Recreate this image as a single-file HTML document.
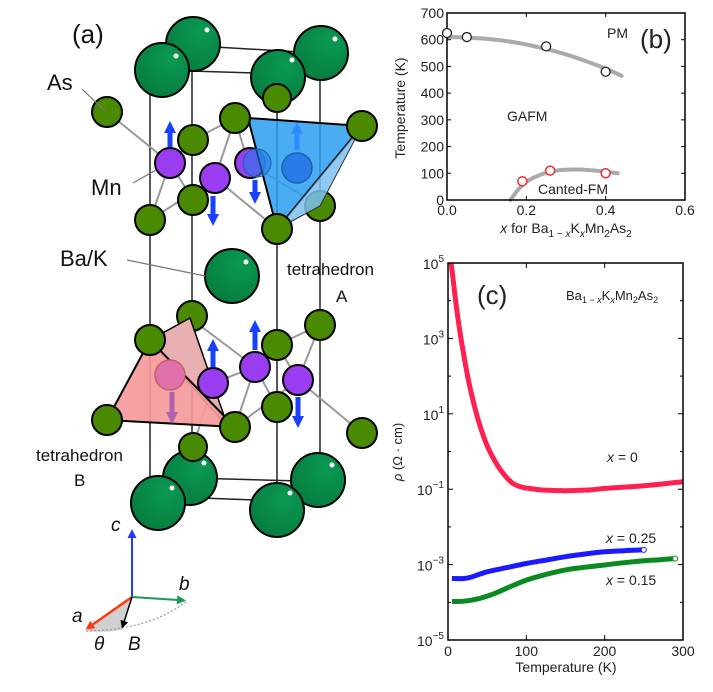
<!DOCTYPE html>
<html><head><meta charset="utf-8">
<style>
html,body{margin:0;padding:0;background:#fff;}
svg{display:block;font-family:"Liberation Sans",sans-serif;}
</style></head>
<body>
<svg id="fig" width="713" height="692" viewBox="0 0 713 692" xmlns="http://www.w3.org/2000/svg">
<defs>
<radialGradient id="gBa" cx="0.65" cy="0.3" r="0.8"><stop offset="0" stop-color="#0a9a52"/><stop offset="1" stop-color="#067a3e"/></radialGradient>
<marker id="mSpin" markerUnits="userSpaceOnUse" markerWidth="12" markerHeight="12" refX="2" refY="6" orient="auto"><path d="M0,0 L12,6 L0,12 z" fill="#1740ff"/></marker>
<marker id="mSpinL" markerUnits="userSpaceOnUse" markerWidth="12" markerHeight="12" refX="2" refY="6" orient="auto"><path d="M0,0 L12,6 L0,12 z" fill="#2a8cff"/></marker>
<marker id="mSpinP" markerUnits="userSpaceOnUse" markerWidth="12" markerHeight="12" refX="2" refY="6" orient="auto"><path d="M0,0 L12,6 L0,12 z" fill="#b060b0"/></marker>
<marker id="mBlue" markerUnits="userSpaceOnUse" markerWidth="9" markerHeight="9" refX="1" refY="4.5" orient="auto"><path d="M0,0 L9,4.5 L0,9 z" fill="#1f3cff"/></marker>
<marker id="mGreen" markerUnits="userSpaceOnUse" markerWidth="9" markerHeight="9" refX="1" refY="4.5" orient="auto"><path d="M0,0 L9,4.5 L0,9 z" fill="#1a9a55"/></marker>
<marker id="mRed" markerUnits="userSpaceOnUse" markerWidth="9" markerHeight="9" refX="1" refY="4.5" orient="auto"><path d="M0,0 L9,4.5 L0,9 z" fill="#ff3a10"/></marker>
<marker id="mBlack" markerUnits="userSpaceOnUse" markerWidth="8" markerHeight="8" refX="1" refY="4" orient="auto"><path d="M0,0 L8,4 L0,8 z" fill="#000"/></marker>
</defs>

<g id="panel-a">
<g stroke="#222" stroke-width="1.5" fill="none">
<line x1="150" y1="70" x2="150" y2="505"/>
<line x1="192" y1="44" x2="192" y2="480"/>
<line x1="277" y1="77" x2="277" y2="510"/>
<line x1="320" y1="53" x2="320" y2="482"/>
<line x1="215" y1="47" x2="300" y2="52"/>
<line x1="190" y1="71" x2="255" y2="73"/>
<line x1="190" y1="478" x2="300" y2="481"/>
<line x1="175" y1="497" x2="255" y2="500"/>
</g>
<g stroke="#999" stroke-width="2">
<line x1="107" y1="112" x2="170" y2="163"/><line x1="170" y1="163" x2="193" y2="140"/><line x1="170" y1="163" x2="150" y2="220"/><line x1="170" y1="163" x2="193" y2="200"/>
<line x1="215" y1="178" x2="235" y2="118"/><line x1="215" y1="178" x2="150" y2="220"/><line x1="215" y1="178" x2="277" y2="229"/><line x1="215" y1="178" x2="193" y2="200"/><line x1="193" y1="140" x2="235" y2="118"/>
<line x1="248" y1="163" x2="235" y2="118"/><line x1="248" y1="163" x2="320" y2="206"/>
<line x1="213" y1="383" x2="150" y2="340"/><line x1="213" y1="383" x2="193" y2="447"/><line x1="213" y1="383" x2="255" y2="367"/><line x1="255" y1="367" x2="277" y2="345"/><line x1="255" y1="367" x2="277" y2="407"/><line x1="255" y1="367" x2="235" y2="427"/>
<line x1="298" y1="380" x2="320" y2="325"/><line x1="298" y1="380" x2="362" y2="433"/><line x1="298" y1="380" x2="235" y2="427"/><line x1="298" y1="380" x2="277" y2="345"/><line x1="277" y1="345" x2="320" y2="325"/><line x1="190" y1="318" x2="255" y2="367"/>
</g>
<g stroke="#000" stroke-width="2">
<circle cx="193" cy="44" r="27" fill="url(#gBa)"/><circle cx="321" cy="53" r="27" fill="url(#gBa)"/>
<circle cx="162" cy="70" r="27" fill="url(#gBa)"/><circle cx="278" cy="77" r="27" fill="url(#gBa)"/>
</g>
<g fill="#fff"><circle cx="207" cy="30" r="2.5"/><circle cx="335" cy="39" r="2.5"/><circle cx="176" cy="56" r="2.5"/><circle cx="292" cy="60" r="2.5"/></g>
<g fill="#4a8a00" stroke="#000" stroke-width="2">
<circle cx="277" cy="98" r="14"/><circle cx="107" cy="112" r="15"/><circle cx="193" cy="140" r="15"/><circle cx="150" cy="220" r="15"/><circle cx="193" cy="200" r="15"/><circle cx="320" cy="206" r="15"/>
</g>
<g fill="#9a3cf0" stroke="#000" stroke-width="2">
<circle cx="170" cy="163" r="15"/><circle cx="215" cy="178" r="15"/><circle cx="250" cy="163" r="15"/>
</g>
<g stroke="#1740ff" stroke-width="5">
<line x1="170" y1="147" x2="170" y2="131" marker-end="url(#mSpin)"/>
<line x1="213" y1="196" x2="213" y2="216" marker-end="url(#mSpin)"/>
<line x1="255" y1="180" x2="255" y2="194" marker-end="url(#mSpin)"/>
</g>
<g>
<polygon points="248,118 362,126 277,229" fill="#2a9ef0" fill-opacity="0.85" stroke="#000" stroke-width="2"/>
<polygon points="362,126 277,229 320,206" fill="#7cc0ee" fill-opacity="0.85" stroke="#333" stroke-width="1"/>
<circle cx="297" cy="168" r="15" fill="#2a7ae8" stroke="#1a60b0" stroke-width="1.5"/>
<circle cx="257" cy="163" r="14" fill="#2a7ae8" stroke="#1a60b0" stroke-width="1" fill-opacity="0.6"/>
<line x1="297" y1="150" x2="297" y2="132" stroke="#2a8cff" stroke-width="5" marker-end="url(#mSpinL)"/>
</g>
<g fill="#4a8a00" stroke="#000" stroke-width="2"><circle cx="235" cy="118" r="15"/><circle cx="362" cy="126" r="15"/><circle cx="277" cy="229" r="15"/></g>
<circle cx="232" cy="276" r="27" fill="url(#gBa)" stroke="#000" stroke-width="2"/>
<circle cx="246" cy="262" r="2.5" fill="#fff"/>
<g fill="#4a8a00" stroke="#000" stroke-width="2">
<circle cx="192" cy="316" r="15"/><circle cx="320" cy="325" r="15"/><circle cx="277" cy="407" r="15"/><circle cx="277" cy="345" r="15"/>
</g>
<g>
<polygon points="190,318 150,340 228,427" fill="#e8b0b0" stroke="#000" stroke-width="1.5"/>
<polygon points="150,340 107,420 235,427" fill="#f59a9a" fill-opacity="0.92" stroke="#000" stroke-width="2"/>
<circle cx="170" cy="375" r="15" fill="#e070a8" stroke="#c06070" stroke-width="1.5"/>
<line x1="172" y1="392" x2="172" y2="414" stroke="#b060b0" stroke-width="5" marker-end="url(#mSpinP)"/>
</g>
<g fill="#4a8a00" stroke="#000" stroke-width="2"><circle cx="150" cy="340" r="15"/><circle cx="107" cy="420" r="15"/><circle cx="235" cy="427" r="15"/><circle cx="362" cy="433" r="15"/></g>
<g fill="#9a3cf0" stroke="#000" stroke-width="2">
<circle cx="213" cy="383" r="15"/><circle cx="255" cy="367" r="15"/><circle cx="298" cy="380" r="15"/>
</g>
<g stroke="#1740ff" stroke-width="5">
<line x1="213" y1="367" x2="213" y2="349" marker-end="url(#mSpin)"/>
<line x1="255" y1="350" x2="255" y2="330" marker-end="url(#mSpin)"/>
<line x1="298" y1="397" x2="298" y2="418" marker-end="url(#mSpin)"/>
</g>
<g stroke="#000" stroke-width="2">
<circle cx="190" cy="478" r="27" fill="url(#gBa)"/><circle cx="318" cy="480" r="27" fill="url(#gBa)"/>
<circle cx="193" cy="447" r="14" fill="#4a8a00"/>
<circle cx="158" cy="503" r="27" fill="url(#gBa)"/><circle cx="277" cy="510" r="27" fill="url(#gBa)"/>
</g>
<g fill="#fff"><circle cx="204" cy="463" r="2.5"/><circle cx="332" cy="465" r="2.5"/><circle cx="172" cy="488" r="2.5"/><circle cx="290" cy="493" r="2.5"/></g>
<g fill="#111">
<text x="72" y="43" font-size="26">(a)</text>
<text x="47" y="90" font-size="22">As</text>
<text x="91" y="195" font-size="22">Mn</text>
<text x="60" y="266" font-size="22">Ba/K</text>
<text x="287" y="275" font-size="17">tetrahedron</text>
<text x="336" y="302" font-size="17">A</text>
<text x="36" y="461" font-size="17">tetrahedron</text>
<text x="74" y="486" font-size="17">B</text>
</g>
<g stroke="#777" stroke-width="1.2"><line x1="82" y1="89" x2="105" y2="111"/><line x1="133" y1="183" x2="156" y2="170"/><line x1="127" y1="260" x2="205" y2="276"/></g>
<g>
<path d="M132,597 L86,631 Q105,633 122,630 Z" fill="#d0d0d0"/>
<path d="M86,631 Q150,630 187,601" fill="none" stroke="#999" stroke-width="1.2" stroke-dasharray="2,2"/>
<line x1="132" y1="597" x2="132" y2="537" stroke="#1f3cff" stroke-width="2" marker-end="url(#mBlue)"/>
<line x1="132" y1="597" x2="178" y2="600" stroke="#1a9a55" stroke-width="2" marker-end="url(#mGreen)"/>
<line x1="132" y1="597" x2="92" y2="625" stroke="#ff3a10" stroke-width="2.5" marker-end="url(#mRed)"/>
<line x1="132" y1="597" x2="124" y2="622" stroke="#000" stroke-width="1.5" marker-end="url(#mBlack)"/>
<g font-size="19" font-style="italic" fill="#111">
<text x="111" y="531">c</text><text x="179" y="590">b</text><text x="72" y="622">a</text><text x="94" y="650">θ</text><text x="128" y="650">B</text>
</g>
</g>
</g>

<g id="panel-b"></g>
<g id="panel-c"></g>
</svg>

<script>
// ---- Panel (b) data ----
const bXTicks = [0.0, 0.2, 0.4, 0.6];
const bXTickLabels = ["0.0", "0.2", "0.4", "0.6"];
const bYTicks = [0, 100, 200, 300, 400, 500, 600, 700];
const neelX = [0.0, 0.05, 0.25, 0.40];
const neelT = [625, 610, 575, 480];
const cantX = [0.19, 0.26, 0.40];
const cantT = [70, 110, 100];
const neelFitX = [0.0, 0.05, 0.1, 0.15, 0.2, 0.25, 0.3, 0.35, 0.4, 0.44];
const neelFitT = [610, 608, 603, 595, 582, 565, 545, 520, 492, 465];
const cantFitX = [0.16, 0.18, 0.2, 0.22, 0.25, 0.28, 0.32, 0.36, 0.4, 0.43];
const cantFitT = [0, 40, 68, 85, 102, 111, 114, 112, 106, 100];

// ---- Panel (c) data ----
const cXTicks = [0, 100, 200, 300];
const cYTickExp = [5, 3, 1, -1, -3, -5];
const rhoT0 = [4, 8, 11, 15, 19, 25, 32, 40, 50, 62, 72, 83, 95, 104, 120, 150, 180, 200, 230, 250, 275, 300];
const rhoLog0 = [5.0, 4.3, 3.8, 3.2, 2.7, 2.0, 1.35, 0.74, 0.15, -0.33, -0.62, -0.85, -0.95, -0.98, -1.02, -1.04, -1.02, -0.98, -0.94, -0.91, -0.86, -0.8];
const rhoT25 = [5, 20, 30, 50, 75, 100, 125, 150, 175, 200, 225, 250];
const rhoLog25 = [-3.37, -3.37, -3.33, -3.19, -3.08, -2.97, -2.88, -2.79, -2.72, -2.66, -2.63, -2.61];
const rhoT15 = [5, 20, 40, 60, 80, 100, 125, 150, 175, 200, 225, 250, 270, 290];
const rhoLog15 = [-3.98, -3.97, -3.9, -3.76, -3.58, -3.41, -3.26, -3.14, -3.07, -3.01, -2.95, -2.9, -2.87, -2.84];

const NS = "http://www.w3.org/2000/svg";
function mk(parent, tag, attrs, text) {
  const e = document.createElementNS(NS, tag);
  for (const k in attrs) e.setAttribute(k, attrs[k]);
  if (text !== undefined) e.textContent = text;
  parent.appendChild(e);
  return e;
}
// smooth path through points (Catmull-Rom)
function smooth(px, py) {
  let d = 'M' + px[0].toFixed(1) + ',' + py[0].toFixed(1);
  for (let i = 0; i < px.length - 1; i++) {
    const i0 = Math.max(0, i - 1), i2 = i + 1, i3 = Math.min(px.length - 1, i + 2);
    const c1x = px[i] + (px[i2] - px[i0]) / 6, c1y = py[i] + (py[i2] - py[i0]) / 6;
    const c2x = px[i2] - (px[i3] - px[i]) / 6, c2y = py[i2] - (py[i3] - py[i]) / 6;
    d += ' C' + c1x.toFixed(1) + ',' + c1y.toFixed(1) + ' ' + c2x.toFixed(1) + ',' + c2y.toFixed(1) + ' ' + px[i2].toFixed(1) + ',' + py[i2].toFixed(1);
  }
  return d;
}

(function () {
  const g = document.getElementById('panel-b');
  const L = 447, R = 685, T = 13, B = 200;
  const xs = v => L + (v - 0) / 0.6 * (R - L);
  const ys = v => B - v / 700 * (B - T);
  const f1 = mk(g, 'path', { d: smooth(neelFitX.map(xs), neelFitT.map(ys)), fill: 'none', stroke: '#aaa', 'stroke-width': 4, 'stroke-linecap': 'round' });
  
  
  const f2 = mk(g, 'path', { d: smooth(cantFitX.map(xs), cantFitT.map(ys)), fill: 'none', stroke: '#aaa', 'stroke-width': 4, 'stroke-linecap': 'round' });
  
  
  const fr = mk(g, 'rect', { x: L, y: T, width: R - L, height: B - T, fill: 'none', stroke: '#000', 'stroke-width': 1.5 });
  
  
  bYTicks.forEach(v => {
    mk(g, 'line', { x1: L, y1: ys(v), x2: L + 4, y2: ys(v), stroke: '#000' });
    mk(g, 'line', { x1: R, y1: ys(v), x2: R - 4, y2: ys(v), stroke: '#000' });
    const t = mk(g, 'text', { x: L - 3, y: ys(v) + 5, 'text-anchor': 'end', 'font-size': 14, fill: '#222' }, String(v));
    
    
  });
  bXTicks.forEach((v, i) => {
    mk(g, 'line', { x1: xs(v), y1: B, x2: xs(v), y2: B - 4, stroke: '#000' });
    mk(g, 'line', { x1: xs(v), y1: T, x2: xs(v), y2: T + 4, stroke: '#000' });
    const t = mk(g, 'text', { x: xs(v), y: B + 15, 'text-anchor': 'middle', 'font-size': 14, fill: '#222' }, bXTickLabels[i]);
    
    
  });
  neelX.forEach((x, i) => {
    const c = mk(g, 'circle', { cx: xs(x), cy: ys(neelT[i]), r: 4.5, fill: '#fff', stroke: '#222', 'stroke-width': 1.3 });
    
    
  });
  cantX.forEach((x, i) => {
    const c = mk(g, 'circle', { cx: xs(x), cy: ys(cantT[i]), r: 4.5, fill: '#fff', stroke: '#ee3030', 'stroke-width': 1.5 });
    
    
  });
  const lab = [['PM', 607, 38, 14, 'pm-label'], ['GAFM', 507, 121, 14, 'gafm-label'], ['Canted-FM', 538, 194, 14, 'canted-fm-label'], ['(b)', 640, 48, 26, 'panel-b-label']];
  lab.forEach(a => {
    const t = mk(g, 'text', { x: a[1], y: a[2], 'font-size': a[3], fill: '#222' }, a[0]);
    
    
  });
  const yl = mk(g, 'text', { x: 0, y: 0, transform: 'translate(405,108) rotate(-90)', 'text-anchor': 'middle', 'font-size': 14, fill: '#222' }, 'Temperature (K)');
  
  
  const xl = mk(g, 'text', { x: 566, y: 233, 'text-anchor': 'middle', 'font-size': 14, fill: '#222' });
  
  
  xl.innerHTML = '<tspan font-style="italic">x</tspan> for Ba<tspan font-size="10" dy="4">1 − <tspan font-style="italic">x</tspan></tspan><tspan dy="-4">K</tspan><tspan font-size="10" dy="4" font-style="italic">x</tspan><tspan dy="-4">Mn</tspan><tspan font-size="10" dy="4">2</tspan><tspan dy="-4">As</tspan><tspan font-size="10" dy="4">2</tspan>';
})();

(function () {
  const g = document.getElementById('panel-c');
  const L = 448, R = 683, T = 263, B = 640;
  const xs = v => L + v / 300 * (R - L);
  const ys = e => T + (5 - e) / 10 * (B - T);
  const series = [[rhoT0, rhoLog0, '#ff2050', 'rho-curve-x0', false], [rhoT25, rhoLog25, '#1a1aff', 'rho-curve-x025', true], [rhoT15, rhoLog15, '#0a8a20', 'rho-curve-x015', true]];
  series.forEach(s => {
    const p = mk(g, 'path', { d: smooth(s[0].map(xs), s[1].map(ys)), fill: 'none', stroke: s[2], 'stroke-width': 5, 'stroke-linejoin': 'round' });
    
    
    if (s[4]) {
      const n = s[0].length - 1;
      mk(g, 'circle', { cx: xs(s[0][n]), cy: ys(s[1][n]), r: 2.5, fill: '#fff', stroke: s[2], 'stroke-width': 1 });
    }
  });
  const fr = mk(g, 'rect', { x: L, y: T, width: R - L, height: B - T, fill: 'none', stroke: '#000', 'stroke-width': 1.5 });
  
  
  for (let e = -5; e <= 5; e++) {
    const len = (e % 2 !== 0) ? 5 : 3;
    mk(g, 'line', { x1: L, y1: ys(e), x2: L + len, y2: ys(e), stroke: '#000' });
    mk(g, 'line', { x1: R, y1: ys(e), x2: R - len, y2: ys(e), stroke: '#000' });
  }
  cYTickExp.forEach(e => {
    const t = mk(g, 'text', { x: L - 4, y: ys(e) + 6, 'text-anchor': 'end', 'font-size': 14, fill: '#222' });
    
    
    t.innerHTML = '10<tspan font-size="10" dy="-7">' + (e < 0 ? '−' + (-e) : e) + '</tspan>';
  });
  cXTicks.forEach(v => {
    mk(g, 'line', { x1: xs(v), y1: B, x2: xs(v), y2: B - 5, stroke: '#000' });
    mk(g, 'line', { x1: xs(v), y1: T, x2: xs(v), y2: T + 5, stroke: '#000' });
    const t = mk(g, 'text', { x: xs(v), y: B + 16, 'text-anchor': 'middle', 'font-size': 14, fill: '#222' }, String(v));
    
    
  });
  const xl = mk(g, 'text', { x: 566, y: 672, 'text-anchor': 'middle', 'font-size': 14, fill: '#222' }, 'Temperature (K)');
  
  
  const yl = mk(g, 'text', { x: 0, y: 0, transform: 'translate(402,452) rotate(-90)', 'text-anchor': 'middle', 'font-size': 13, fill: '#222' });
  
  
  yl.innerHTML = '<tspan font-style="italic">ρ</tspan> (Ω · cm)';
  const pl = mk(g, 'text', { x: 477, y: 304, 'font-size': 26, fill: '#222' }, '(c)');
  
  
  const cl = mk(g, 'text', { x: 566, y: 300, 'font-size': 13, fill: '#222' });
  
  
  cl.innerHTML = 'Ba<tspan font-size="9" dy="3">1 − <tspan font-style="italic">x</tspan></tspan><tspan dy="-3">K</tspan><tspan font-size="9" dy="3" font-style="italic">x</tspan><tspan dy="-3">Mn</tspan><tspan font-size="9" dy="3">2</tspan><tspan dy="-3">As</tspan><tspan font-size="9" dy="3">2</tspan>';
  [['x = 0', 607, 462, 'label-x0'], ['x = 0.25', 606, 543, 'label-x025'], ['x = 0.15', 606, 585, 'label-x015']].forEach(a => {
    const t = mk(g, 'text', { x: a[1], y: a[2], 'font-size': 14, fill: '#222' });
    
    
    t.innerHTML = '<tspan font-style="italic">x</tspan>' + a[0].slice(1);
  });
})();
</script>
</body></html>
